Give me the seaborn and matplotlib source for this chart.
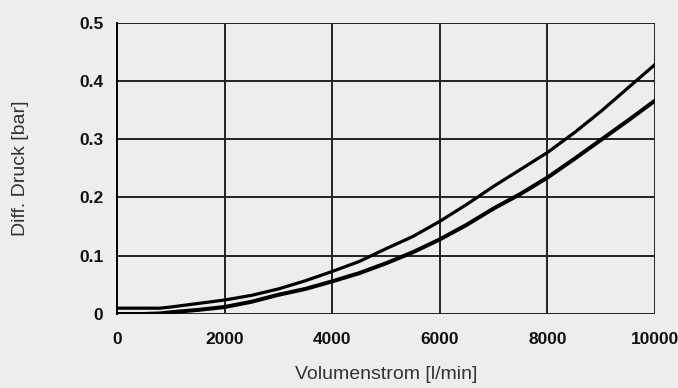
import pandas as pd
import matplotlib
matplotlib.use("Agg")
import matplotlib.pyplot as plt
import seaborn as sns

# Werte
volumenstrom = [0, 500, 800, 1000, 1500, 2000, 2500, 3000, 3500, 4000, 4500,
                5000, 5500, 6000, 6500, 7000, 7500, 8000, 8500, 9000, 9500, 10000]
druck_oben = [0.010, 0.010, 0.010, 0.012, 0.018, 0.024, 0.032, 0.043, 0.057, 0.073, 0.090,
              0.112, 0.133, 0.159, 0.188, 0.219, 0.248, 0.277, 0.311, 0.348, 0.388, 0.428]
druck_unten = [0.000, 0.000, 0.001, 0.003, 0.007, 0.012, 0.021, 0.033, 0.043, 0.056, 0.070,
               0.087, 0.106, 0.128, 0.153, 0.181, 0.206, 0.234, 0.266, 0.299, 0.332, 0.366]

x_ticks = [0, 2000, 4000, 6000, 8000, 10000]
y_ticks = [0, 0.1, 0.2, 0.3, 0.4, 0.5]
y_labels = ["0", "0.1", "0.2", "0.3", "0.4", "0.5"]

df = pd.DataFrame({
    "x": volumenstrom * 2,
    "y": druck_oben + druck_unten,
    "kurve": ["oben"] * len(volumenstrom) + ["unten"] * len(volumenstrom),
})

bg = "#ecedec"
sns.set_style("white")
plt.rcParams["font.family"] = ["Liberation Sans", "DejaVu Sans"]

fig = plt.figure(figsize=(6.78, 3.88), dpi=100, facecolor=bg)
ax = fig.add_axes([0.1726, 0.1907, 0.7935, 0.7513])
ax.set_facecolor(bg)

sns.lineplot(data=df[df.kurve == "oben"], x="x", y="y", ax=ax, color="black",
             linewidth=2.3, legend=False)
sns.lineplot(data=df[df.kurve == "unten"], x="x", y="y", ax=ax, color="black",
             linewidth=2.9, legend=False)

ax.set_xlim(0, 10000)
ax.set_ylim(0, 0.5)
ax.set_xticks(x_ticks)
ax.set_xticklabels([str(t) for t in x_ticks], fontweight="bold", fontsize=12.5)
ax.set_yticks(y_ticks)
ax.set_yticklabels(y_labels, fontweight="bold", fontsize=12.5)
ax.tick_params(axis="both", direction="out", length=4, width=1.3, color="black",
               labelcolor="#111111")
ax.tick_params(axis="y", pad=6)
ax.tick_params(axis="x", pad=9)

ax.grid(True, color="#222222", linewidth=1.4)
ax.set_axisbelow(True)
for side in ["top", "right", "bottom"]:
    ax.spines[side].set_visible(False)
ax.spines["left"].set_color("black")
ax.spines["left"].set_linewidth(1.4)

ax.set_xlabel("Volumenstrom [l/min]", fontsize=14, color="#333333")
ax.set_ylabel("Diff. Druck [bar]", fontsize=14, color="#333333")
ax.xaxis.set_label_coords(0.5, -0.18)
ax.yaxis.set_label_coords(-0.164, 0.5)

fig.savefig("out.png", dpi=100, facecolor=bg)
